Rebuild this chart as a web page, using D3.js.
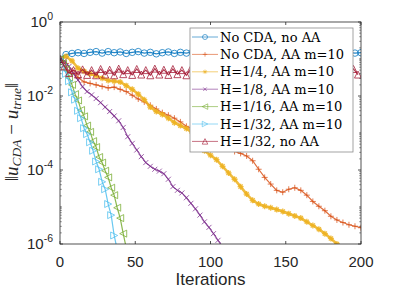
<!DOCTYPE html>
<meta charset="utf-8">
<style>
html, body { margin: 0; background: #fff; }
svg { display: block; }
.tick text { font: 15px "Liberation Sans", Arial, sans-serif; fill: #262626; }
.legend text { font: 13px "DejaVu Serif", serif; fill: #000; }
</style>
<svg width="399" height="291"></svg>
<script src="https://d3js.org/d3.v7.min.js"></script>
<script>

// log10 of the error
var itersBlue = d3.range(0, 201, 4);
var logBlue = [-1.0, -0.88, -0.85, -0.83, -0.85, -0.82, -0.80, -0.84, -0.80, -0.83, -0.81,
  -0.85, -0.82, -0.80, -0.84, -0.82, -0.86, -0.83, -0.81, -0.85, -0.82, -0.84, -0.81, -0.85,
  -0.83, -0.86, -0.82, -0.84, -0.81, -0.85, -0.83, -0.80, -0.84, -0.82, -0.85, -0.81, -0.84,
  -0.82, -0.86, -0.83, -0.81, -0.85, -0.82, -0.84, -0.81, -0.85, -0.83, -0.86, -0.82, -0.84, -0.83];

var itersOrange = d3.range(0, 201, 4);
var logOrange = [-1.0, -1.12, -1.32, -1.5, -1.62, -1.66, -1.7, -1.74, -1.78, -1.76, -1.82,
  -1.88, -1.98, -2.08, -2.16, -2.25, -2.35, -2.45, -2.52, -2.6, -2.7, -2.82, -2.9, -3.0,
  -3.12, -3.2, -3.28, -3.36, -3.42, -3.5, -3.55, -3.62, -3.75, -3.98, -4.2, -4.38, -4.55,
  -4.6, -4.52, -4.48, -4.55, -4.68, -4.85, -4.98, -5.1, -5.25, -5.35, -5.42, -5.48, -5.52, -5.56];

var itersYellow = d3.range(0, 185, 4);
var logYellow = [-1.0, -0.93, -1.05, -1.25, -1.33, -1.4, -1.45, -1.52, -1.58, -1.6, -1.62,
  -1.72, -1.82, -1.95, -2.1, -2.3, -2.42, -2.5, -2.6, -2.72, -2.8, -2.88, -3.0, -3.25,
  -3.48, -3.6, -3.72, -3.9, -4.08, -4.25, -4.45, -4.65, -4.82, -4.92, -4.98, -5.02, -5.07,
  -5.12, -5.18, -5.24, -5.3, -5.4, -5.5, -5.6, -5.72, -5.85, -6.0];

var itersPurple = d3.range(0, 109, 3);
var logPurple = [-1.0, -1.05, -1.2, -1.4, -1.57, -1.75, -1.88, -1.97, -2.07, -2.18, -2.3,
  -2.42, -2.54, -2.67, -2.85, -3.1, -3.28, -3.46, -3.64, -3.8, -3.9, -3.98, -4.03, -4.1,
  -4.25, -4.45, -4.55, -4.62, -4.75, -4.9, -5.05, -5.22, -5.4, -5.55, -5.72, -5.9, -6.08];

var itersGreen = d3.range(0, 45, 2);
var logGreen = [-1.0, -1.12, -1.28, -1.5, -1.7, -1.95, -2.12, -2.38, -2.55, -2.8, -2.97,
  -3.22, -3.38, -3.65, -3.8, -4.02, -4.2, -4.48, -4.68, -5.02, -5.3, -5.72, -6.1];

var itersCyan = d3.range(0, 39, 2);
var logCyan = [-1.0, -1.15, -1.4, -1.6, -1.9, -2.1, -2.4, -2.6, -2.87, -3.03, -3.25, -3.48,
  -3.77, -3.98, -4.32, -4.52, -4.92, -5.22, -5.77, -6.15];

var itersRed = d3.range(0, 199, 3);
var logRed = [-1.0, -1.2, -1.38, -1.3, -1.42, -1.28, -1.43, -1.3, -1.44, -1.27, -1.42,
  -1.29, -1.44, -1.26, -1.41, -1.3, -1.43, -1.27, -1.42, -1.3, -1.44, -1.26, -1.42, -1.29,
  -1.43, -1.27, -1.41, -1.3, -1.44, -1.26, -1.42, -1.28, -1.43, -1.27, -1.42, -1.3, -1.44,
  -1.26, -1.41, -1.29, -1.43, -1.27, -1.42, -1.3, -1.44, -1.26, -1.42, -1.28, -1.43, -1.27,
  -1.41, -1.3, -1.44, -1.26, -1.42, -1.29, -1.43, -1.27, -1.42, -1.3, -1.44, -1.26, -1.41,
  -1.28, -1.43, -1.27, -1.42];

var seriesNames = ['No CDA, no AA', 'No CDA, AA m=10', 'H=1/4, AA m=10', 'H=1/8, AA m=10',
  'H=1/16, AA m=10', 'H=1/32, AA m=10', 'H=1/32, no AA'];
var seriesColors = ['#0072BD', '#D95319', '#EDB120', '#7E2F8E', '#77AC30', '#4DBEEE', '#A2142F'];
var seriesMarkers = ['circle', 'plus', 'star', 'cross', 'triLeft', 'triRight', 'triUp'];

var xTicks = [0, 50, 100, 150, 200];
var yTicks = [0, -2, -4, -6]; // exponents

var series = [
  [itersBlue, logBlue], [itersOrange, logOrange], [itersYellow, logYellow],
  [itersPurple, logPurple], [itersGreen, logGreen], [itersCyan, logCyan], [itersRed, logRed]
].map(function (s, k) {
  return {
    name: seriesNames[k], color: seriesColors[k], marker: seriesMarkers[k],
    values: s[0].map(function (it, i) { return {x: it, y: Math.pow(10, s[1][i])}; })
  };
});

var plotLeft = 60, plotRight = 361, plotTop = 22, plotBottom = 244;

var svg = d3.select('svg');

var x = d3.scaleLinear().domain([0, 200]).range([plotLeft, plotRight]);
var y = d3.scaleLog().domain([1e-6, 1]).range([plotBottom, plotTop]);

svg.append('clipPath').attr('id', 'clip')
  .append('rect').attr('x', plotLeft).attr('y', plotTop)
  .attr('width', plotRight - plotLeft).attr('height', plotBottom - plotTop);

function markerPath(type, s) {
  var h = s / 2;
  switch (type) {
    case 'circle': return d3.symbol(d3.symbolCircle, Math.PI * h * h)();
    case 'plus': return 'M' + (-h) + ',0H' + h + 'M0,' + (-h) + 'V' + h;
    case 'cross': return 'M' + (-h) + ',' + (-h) + 'L' + h + ',' + h + 'M' + (-h) + ',' + h + 'L' + h + ',' + (-h);
    case 'star': return 'M' + (-h) + ',0H' + h + 'M0,' + (-h) + 'V' + h +
      'M' + (-h * 0.7) + ',' + (-h * 0.7) + 'L' + (h * 0.7) + ',' + (h * 0.7) +
      'M' + (-h * 0.7) + ',' + (h * 0.7) + 'L' + (h * 0.7) + ',' + (-h * 0.7);
    case 'triUp': return 'M0,' + (-h) + 'L' + h + ',' + h + 'L' + (-h) + ',' + h + 'Z';
    case 'triLeft': return 'M' + (-h) + ',0L' + h + ',' + (-h) + 'L' + h + ',' + h + 'Z';
    case 'triRight': return 'M' + h + ',0L' + (-h) + ',' + (-h) + 'L' + (-h) + ',' + h + 'Z';
  }
}
var markerSize = {circle: 6.5, plus: 6, star: 6, cross: 5, triUp: 7, triLeft: 7, triRight: 7};
var lineWidth = {circle: 1.2, plus: 1.2, star: 2.6, cross: 1.2, triUp: 1.2, triLeft: 1.2, triRight: 1.2};

var line = d3.line()
  .x(function (d) { return x(d.x); })
  .y(function (d) { return y(d.y); });

var plot = svg.append('g').attr('clip-path', 'url(#clip)');

series.forEach(function (s) {
  var g = plot.append('g').attr('stroke', s.color).attr('fill', 'none')
    .attr('stroke-opacity', 0.85);
  g.append('path').attr('d', line(s.values)).attr('stroke-width', lineWidth[s.marker]);
  g.selectAll('path.m')
    .data(s.values)
    .enter().append('path')
    .attr('class', 'm')
    .attr('transform', function (d) { return 'translate(' + x(d.x) + ',' + y(d.y) + ')'; })
    .attr('d', markerPath(s.marker, markerSize[s.marker]))
    .attr('stroke-width', s.marker === 'star' ? 1.3 : 0.9);
});

// axes frame
var axisColor = '#262626';
svg.append('rect')
  .attr('x', plotLeft).attr('y', plotTop)
  .attr('width', plotRight - plotLeft).attr('height', plotBottom - plotTop)
  .attr('fill', 'none').attr('stroke', axisColor).attr('stroke-width', 0.8);

// x ticks (inward, bottom and top)
var ticks = svg.append('g').attr('stroke', axisColor).attr('stroke-width', 0.8);
xTicks.forEach(function (t) {
  ticks.append('line').attr('x1', x(t)).attr('x2', x(t)).attr('y1', plotBottom).attr('y2', plotBottom - 3);
  ticks.append('line').attr('x1', x(t)).attr('x2', x(t)).attr('y1', plotTop).attr('y2', plotTop + 3);
});

// y ticks, major and log minor, on both sides
for (var e = -6; e <= 0; e++) {
  var major = yTicks.indexOf(e) >= 0;
  var yy = y(Math.pow(10, e));
  var len = major ? 3 : 1.8;
  ticks.append('line').attr('x1', plotLeft).attr('x2', plotLeft + len).attr('y1', yy).attr('y2', yy);
  ticks.append('line').attr('x1', plotRight).attr('x2', plotRight - len).attr('y1', yy).attr('y2', yy);
  if (e < 0) {
    for (var m = 2; m <= 9; m++) {
      var ym = y(m * Math.pow(10, e));
      ticks.append('line').attr('x1', plotLeft).attr('x2', plotLeft + 1.8).attr('y1', ym).attr('y2', ym).attr('stroke-width', 0.5);
      ticks.append('line').attr('x1', plotRight).attr('x2', plotRight - 1.8).attr('y1', ym).attr('y2', ym).attr('stroke-width', 0.5);
    }
  }
}

// tick labels
var labels = svg.append('g').attr('class', 'tick');
xTicks.forEach(function (t) {
  labels.append('text').attr('x', x(t)).attr('y', 267)
    .attr('text-anchor', 'middle').text(t);
});
yTicks.forEach(function (e) {
  var t = labels.append('text').attr('x', 53).attr('y', y(Math.pow(10, e)) + 5)
    .attr('text-anchor', 'end');
  t.append('tspan').text('10');
  t.append('tspan').attr('dy', -7).style('font-size', '10.5px').text(e === 0 ? '0' : String(e));
});

svg.append('text')
  .attr('x', (plotLeft + plotRight) / 2).attr('y', 285)
  .attr('text-anchor', 'middle')
  .style('font', '17px "Liberation Sans", Arial, sans-serif')
  .attr('fill', '#262626')
  .text('Iterations');

// y label: ||u_CDA - u_true||
var yl = svg.append('text')
  .attr('transform', 'translate(18,132) rotate(-90)')
  .attr('text-anchor', 'middle')
  .style('font', '19px "Liberation Serif", serif')
  .attr('fill', '#262626');
yl.append('tspan').text('\u2016');
yl.append('tspan').style('font-style', 'italic').text('u');
yl.append('tspan').attr('dy', 3).style('font-style', 'italic').style('font-size', '13.5px').text('CDA');
yl.append('tspan').attr('dy', -3).text(' \u2212 ');
yl.append('tspan').style('font-style', 'italic').text('u');
yl.append('tspan').attr('dy', 3).style('font-style', 'italic').style('font-size', '13.5px').text('true');
yl.append('tspan').attr('dy', -3).text('\u2016');

// legend
var legend = svg.append('g').attr('class', 'legend');
legend.append('rect')
  .attr('x', 190).attr('y', 28).attr('width', 163).attr('height', 124)
  .attr('fill', '#fff').attr('stroke', '#8c8c8c').attr('stroke-width', 0.8);

var rows = legend.selectAll('g.row')
  .data(series)
  .enter().append('g')
  .attr('class', 'row')
  .attr('transform', function (d, i) { return 'translate(0,' + (37 + i * 17.4) + ')'; });

rows.append('line')
  .attr('x1', 192).attr('x2', 218).attr('y1', 0).attr('y2', 0)
  .attr('stroke', function (d) { return d.color; })
  .attr('stroke-opacity', 0.6);
rows.append('path')
  .attr('transform', 'translate(205,0)')
  .attr('d', function (d) { return markerPath(d.marker, markerSize[d.marker] - 1.5); })
  .attr('fill', 'none')
  .attr('stroke', function (d) { return d.color; })
  .attr('stroke-opacity', 0.6);
rows.append('text')
  .attr('x', 220).attr('y', 0).attr('dy', '0.36em')
  .text(function (d) { return d.name; });

</script>
